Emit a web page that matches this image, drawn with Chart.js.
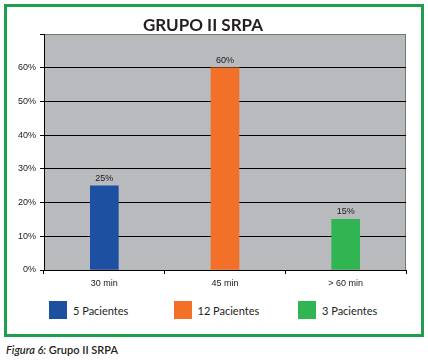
<!DOCTYPE html>
<html>
<head>
<meta charset="utf-8">
<script src="https://cdn.jsdelivr.net/npm/chart.js@4.4.0/dist/chart.umd.min.js"></script>
<style>
  html, body { margin: 0; padding: 0; background: #fff; }
  #wrap { position: relative; width: 428px; height: 361px; overflow: hidden; }
  #frame {
    position: absolute; left: 4px; top: 4px; width: 420px; height: 333px;
    box-sizing: border-box; border: 3px solid #1f9e4f;
  }
  #chartBox { position: absolute; left: 0; top: 0; width: 428px; height: 300px; }
  #legend { position: absolute; left: 49px; top: 301px; display: flex; }
  .item { width: 124.5px; display: flex; align-items: center; font: 11px Lato, sans-serif; color: #231f20; }
  .swatch { width: 18px; height: 18px; margin-right: 6px; box-sizing: border-box; }
  #caption {
    position: absolute; left: 6px; top: 343px; font: 600 11px Lato, sans-serif; color: #231f20;
  }
  #caption i { font-style: italic; }
</style>
</head>
<body>
<div id="wrap">
  <div id="frame"></div>
  <div id="chartBox"><canvas id="grupoChart"></canvas></div>
  <div id="legend"></div>
  <div id="caption"><i>Figura 6:</i> Grupo II SRPA</div>
</div>
<script>
// datos del gráfico
const categorias = ['30 min', '45 min', '> 60 min'];
const porcentajes = [25, 60, 15];
const pacientes = ['5 Pacientes', '12 Pacientes', '3 Pacientes'];
const colores = ['#1e50a2', '#f37029', '#31b553'];
const yTicks = [0, 10, 20, 30, 40, 50, 60, 70];

// fondo gris del área de trazado + borde
const plotBackground = {
    id: 'plotBackground',
    beforeDraw(chart) {
        const { ctx, chartArea: a } = chart;
        ctx.save();
        ctx.fillStyle = '#b9babd';
        ctx.fillRect(a.left, a.top, a.right - a.left, a.bottom - a.top);
        ctx.strokeStyle = '#6f7a72';
        ctx.lineWidth = 1;
        ctx.strokeRect(a.left + 0.5, a.top + 0.5, a.right - a.left - 1, a.bottom - a.top);
        ctx.restore();
    }
};

// etiquetas de valor encima de cada barra
const valueLabels = {
    id: 'valueLabels',
    afterDatasetsDraw(chart) {
        const { ctx } = chart;
        ctx.save();
        ctx.font = '9px "Liberation Sans", Arial, sans-serif';
        ctx.fillStyle = '#1a1a1a';
        ctx.textAlign = 'center';
        ctx.textBaseline = 'bottom';
        chart.getDatasetMeta(0).data.forEach((bar, i) => {
            ctx.fillText(porcentajes[i] + '%', bar.x, bar.y - 3);
        });
        ctx.restore();
    }
};

const ctx = document.getElementById('grupoChart').getContext('2d');
new Chart(ctx, {
    type: 'bar',
    data: {
        labels: categorias,
        datasets: [{
            label: 'Grupo II SRPA',
            data: porcentajes,
            backgroundColor: colores,
            borderWidth: 0,
            barThickness: 28
        }]
    },
    options: {
        responsive: true,
        maintainAspectRatio: false,
        animation: false,
        layout: { padding: { left: 0, right: 22, top: 0, bottom: 10 } },
        plugins: {
            legend: { display: false },
            tooltip: { enabled: false },
            title: {
                display: true,
                text: 'GRUPO II SRPA',
                color: '#231f20',
                font: { family: 'Lato', size: 17, weight: 'bold', lineHeight: 1 },
                padding: { top: 17, bottom: 0 }
            }
        },
        scales: {
            x: {
                grid: {
                    offset: true,
                    drawOnChartArea: false,
                    drawTicks: true,
                    tickLength: 4,
                    tickColor: '#000'
                },
                border: { color: '#000', width: 1 },
                ticks: {
                    color: '#1a1a1a',
                    padding: 4,
                    font: { family: 'Liberation Sans', size: 9 }
                },
                afterFit: scale => { scale.height = 20; }
            },
            y: {
                min: 0,
                max: 70,
                afterBuildTicks: scale => { scale.ticks = yTicks.map(v => ({ value: v })); },
                grid: {
                    color: c => (c.tick.value === 70 || c.tick.value === 0) ? 'rgba(0,0,0,0)' : '#000',
                    tickColor: '#000',
                    tickLength: 4,
                    lineWidth: 1
                },
                border: { color: '#000', width: 1 },
                ticks: {
                    color: '#1a1a1a',
                    padding: 4,
                    font: { family: 'Liberation Sans', size: 9 },
                    callback: v => v === 70 ? '' : v + '%'
                },
                afterFit: scale => { scale.width = 44; }
            }
        }
    },
    plugins: [plotBackground, valueLabels]
});

// leyenda HTML construida con los mismos arreglos
const legend = document.getElementById('legend');
pacientes.forEach((txt, i) => {
    const item = document.createElement('div');
    item.className = 'item';
    const sw = document.createElement('span');
    sw.className = 'swatch';
    sw.style.background = colores[i];
    item.appendChild(sw);
    item.appendChild(document.createTextNode(txt));
    legend.appendChild(item);
});
</script>
</body>
</html>
